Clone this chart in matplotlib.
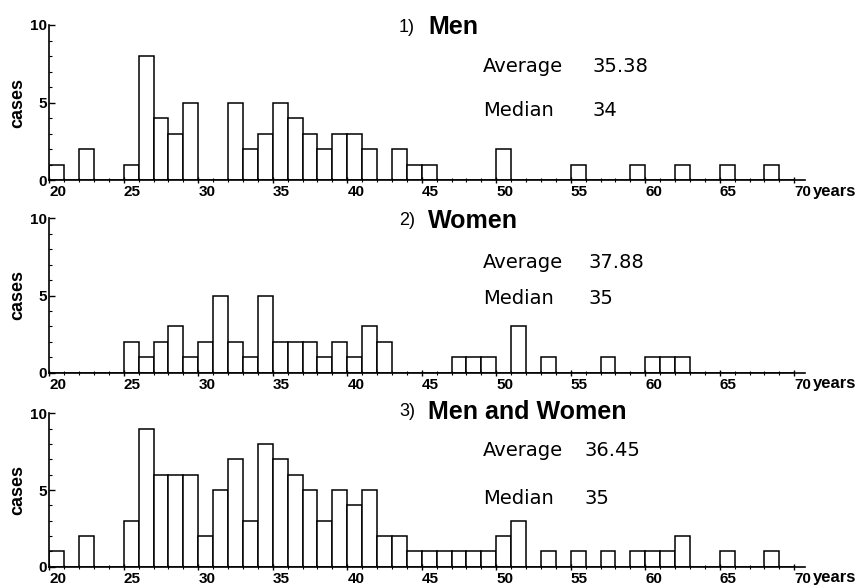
import matplotlib
matplotlib.use("Agg")
import matplotlib.pyplot as plt
from matplotlib.ticker import MultipleLocator

# ages 20..69, one bar per year
ages = list(range(20, 70))

#                20 21 22 23 24 25 26 27 28 29 30 31 32 33 34 35 36 37 38 39
men_counts = [1, 0, 2, 0, 0, 1, 8, 4, 3, 5, 0, 0, 5, 2, 3, 5, 4, 3, 2, 3,
              3, 2, 0, 2, 1, 1, 0, 0, 0, 0, 2, 0, 0, 0, 0, 1, 0, 0, 0, 1,
              0, 0, 1, 0, 0, 1, 0, 0, 1, 0]
women_counts = [0, 0, 0, 0, 0, 2, 1, 2, 3, 1, 2, 5, 2, 1, 5, 2, 2, 2, 1, 2,
                1, 3, 2, 0, 0, 0, 0, 1, 1, 1, 0, 3, 0, 1, 0, 0, 0, 1, 0, 0,
                1, 1, 1, 0, 0, 0, 0, 0, 0, 0]
all_counts = [1, 0, 2, 0, 0, 3, 9, 6, 6, 6, 2, 5, 7, 3, 8, 7, 6, 5, 3, 5,
              4, 5, 2, 2, 1, 1, 1, 1, 1, 1, 2, 3, 0, 1, 0, 1, 0, 1, 0, 1,
              1, 1, 2, 0, 0, 1, 0, 0, 1, 0]

panel_nums = ["1)", "2)", "3)"]
panel_titles = ["Men", "Women", "Men and Women"]
averages = ["35.38", "37.88", "36.45"]
medians = ["34", "35", "35"]
x_ticks = [20, 25, 30, 35, 40, 45, 50, 55, 60, 65, 70]

W, H = 859, 586
bold_font = ["Liberation Sans", "DejaVu Sans"]
plain_font = ["DejaVu Sans"]


def fx(px):
    return px / W


def fy(py):
    return 1 - py / H


fig = plt.figure(figsize=(W / 100, H / 100), dpi=100, facecolor="white")

# (zero line y, ten line y) in pixels for each panel
panel_rows = [(180, 25), (372.7, 218.3), (566.7, 413.3)]
# text layout in pixels: title y, average y, median y, value x
text_rows = [(27, 67, 110, 593), (221, 262, 298, 589), (412, 451, 498, 585)]

count_sets = [men_counts, women_counts, all_counts]

for i, counts in enumerate(count_sets):
    y0, y10 = panel_rows[i]
    ax = fig.add_axes([fx(49.3), fy(y0), fx(804.7) - fx(49.3), (y0 - y10) / H])
    ax.bar(ages, counts, width=1, align="edge", facecolor="white",
           edgecolor="black", linewidth=1.1)
    ax.set_xlim(20, 70.7)
    ax.set_ylim(0, 10)
    for s in ["top", "right"]:
        ax.spines[s].set_visible(False)
    ax.spines["left"].set_linewidth(1.2)
    ax.spines["bottom"].set_linewidth(1.2)
    ax.set_facecolor("none")

    ax.set_xticks(x_ticks)
    ax.xaxis.set_minor_locator(MultipleLocator(1))
    ax.set_xticklabels([str(t) for t in x_ticks], ha="left",
                       fontfamily=bold_font, fontweight="bold", fontsize=11)
    ax.tick_params(axis="x", which="major", direction="inout", length=5,
                   width=1, pad=1)
    ax.tick_params(axis="x", which="minor", direction="inout", length=3,
                   width=0.8)

    ax.set_yticks([0, 5, 10])
    ax.yaxis.set_minor_locator(MultipleLocator(1))
    ax.set_yticklabels(["0", "5", "10"], fontfamily=bold_font,
                       fontweight="bold", fontsize=11)
    ax.tick_params(axis="y", which="major", direction="in", length=4,
                   width=1, pad=2)
    ax.tick_params(axis="y", which="minor", direction="in", length=2,
                   width=0.8)

    # axis labels
    ax.text(-0.042, 0.5, "cases", transform=ax.transAxes, rotation=90,
            ha="center", va="center", fontfamily=bold_font,
            fontweight="bold", fontsize=13)
    fig.text(fx(813), fy(y0 + 11), "years", ha="left", va="center",
             fontfamily=bold_font, fontweight="bold", fontsize=12)

    # title and statistics
    ty, ay, my, vx = text_rows[i]
    fig.text(fx(399), fy(ty), panel_nums[i], ha="left", va="center",
             fontfamily=bold_font, fontsize=13)
    fig.text(fx(428), fy(ty), panel_titles[i], ha="left", va="center",
             fontfamily=bold_font, fontweight="bold", fontsize=18)
    fig.text(fx(483), fy(ay), "Average", ha="left", va="center",
             fontfamily=plain_font, fontsize=14)
    fig.text(fx(vx), fy(ay), averages[i], ha="left", va="center",
             fontfamily=plain_font, fontsize=14)
    fig.text(fx(483), fy(my), "Median", ha="left", va="center",
             fontfamily=plain_font, fontsize=14)
    fig.text(fx(vx), fy(my), medians[i], ha="left", va="center",
             fontfamily=plain_font, fontsize=14)

fig.savefig("out.png", dpi=100, facecolor="white")
